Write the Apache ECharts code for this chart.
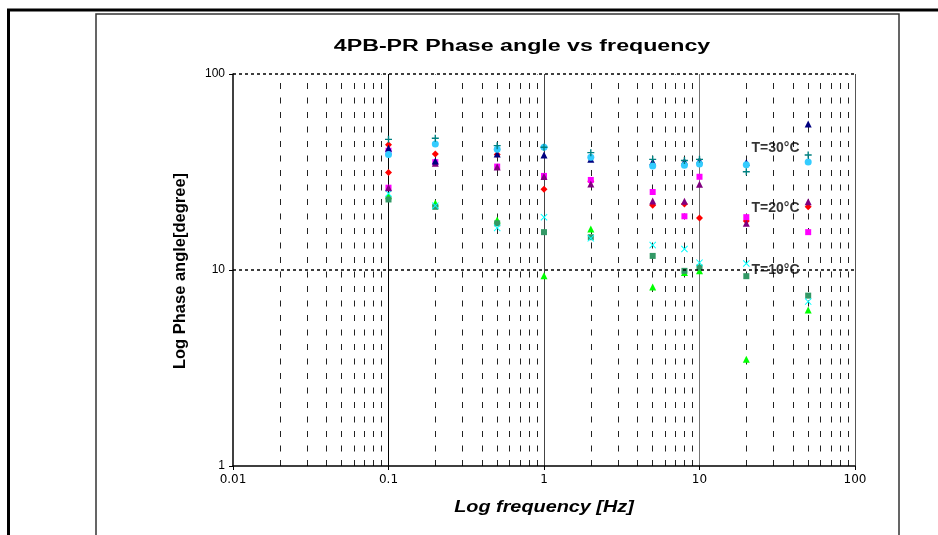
<!DOCTYPE html>
<html><head><meta charset="utf-8">
<script src="https://cdn.jsdelivr.net/npm/echarts@6/dist/echarts.min.js"></script>
<style>html,body{margin:0;padding:0;background:#fff}#c{width:938px;height:535px}</style>
</head><body><div id="c"></div>
<script>
// ---- data ----
const freqs = [0.1, 0.2, 0.5, 1, 2, 5, 8, 10, 20, 50];
const freqsRep = [0.1, 0.1, 0.2, 0.5, 1, 2, 5, 8, 10, 20, 50];
// T=30°C
const navyTriangle = [41.8, 36.0, 39.1, 38.6, 36.7, 35.7, 35.9, 36.3, 35.4, 55.6];
const cyanCircle   = [38.8, 44.0, 41.3, 42.3, 37.6, 33.9, 34.2, 34.7, 34.4, 35.6];
const tealPlus     = [46.4, 47.0, 43.1, 42.3, 39.7, 36.7, 36.2, 36.7, 31.7, 38.6];
// T=20°C
const redDiamond     = [43.6, 31.4, 39.1, 38.8, 25.8, 28.4, 21.4, 21.7, 18.4, 17.8, 21.0];
const magentaSquare  = [40.6, 26.3, 35.5, 33.7, 30.2, 28.8, 25.0, 18.8, 29.9, 18.6, 15.6];
const purpleTriangle = [26.3, 35.0, 33.5, 30.0, 27.5, 22.5, 22.4, 27.4, 17.3, 22.3];
// T=10°C
const cyanCross      = [24.6, 21.3, 16.4, 18.6, 14.5, 13.4, 12.8, 10.9, 10.8, 6.9];
const seaGreenSquare = [22.9, 21.0, 17.3, 15.6, 14.7, 11.8, 9.9, 10.3, 9.3, 7.4];
const greenTriangle  = [23.9, 22.0, 18.0, 9.35, 16.2, 8.2, 9.7, 9.9, 3.5, 6.25];
// annotations [freq, value, text]
const annotations = [[21.6, 41.9, 'T=30°C'], [21.6, 20.7, 'T=20°C'], [21.6, 10.0, 'T=10°C']];
// axes
const xTickLabels = {0.01: '0.01', 0.1: '0.1', 1: '1', 10: '10', 100: '100'};
const yTickLabels = {1: '1', 10: '10', 100: '100'};
const majorX = [0.1, 1, 10, 100];
const minorDigits = [2, 3, 4, 5, 6, 7, 8, 9];
const decades = [0.01, 0.1, 1, 10];

const PLUS = 'path://M4,0L6,0L6,4L10,4L10,6L6,6L6,10L4,10L4,6L0,6L0,4L4,4Z';
const CROSS = 'path://M0,1L1,0L5,4L9,0L10,1L6,5L10,9L9,10L5,6L1,10L0,9L4,5Z';

function pairs(xs, ys) { return ys.map((v, i) => [xs[i], v]); }

const minorLines = [];
decades.forEach(d => minorDigits.forEach(k => minorLines.push({xAxis: +(d * k).toPrecision(3)})));
const majorColors = ['#000', '#444', '#777', '#555'];
const majorLines = majorX.map((x, i) => ({xAxis: x, lineStyle: {type: 'solid', color: majorColors[i], width: 1}}));

function sc(name, xs, ys, symbol, color, size) {
  return {type: 'scatter', name, data: pairs(xs, ys), symbol, symbolSize: size || 6,
    itemStyle: {color, opacity: 1}, z: 3, silent: true, animation: false};
}

const series = [
  {type: 'line', data: [], z: 1, silent: true, animation: false,
   markLine: {silent: true, symbol: ['none', 'none'], label: {show: false}, z: 1, animation: false,
     lineStyle: {type: [6, 8.5], color: '#222', width: 1},
     data: minorLines.concat(majorLines)}},
  sc('green', freqs, greenTriangle, 'triangle', '#00FF00', 7),
  sc('seagreen', freqs, seaGreenSquare, 'rect', '#339966', 6),
  sc('cyanx', freqs, cyanCross, CROSS, '#00FFFF', 7),
  sc('red', freqsRep, redDiamond, 'diamond', '#FF0000', 7),
  sc('magenta', freqsRep, magentaSquare, 'rect', '#FF00FF', 6),
  sc('purple', freqs, purpleTriangle, 'triangle', '#800080', 7),
  sc('navy', freqs, navyTriangle, 'triangle', '#000080', 7),
  sc('cyan', freqs, cyanCircle, 'circle', '#33CCFF', 7),
  sc('teal', freqs, tealPlus, PLUS, '#008080', 7),
  {type: 'scatter', data: annotations.map(a => ({value: [a[0], a[1]], name: a[2]})), symbolSize: 0, z: 4, silent: true,
   label: {show: true, position: 'right', distance: 0, formatter: p => p.name,
     fontFamily: 'Liberation Sans, Arial', fontWeight: 'bold', fontSize: 14, color: '#000'}}
];

const chart = echarts.init(document.getElementById('c'), null, {renderer: 'canvas'});
chart.setOption({
  backgroundColor: '#fff',
  animation: false,
  grid: {left: 233, right: 83, top: 74, bottom: 69, containLabel: false},
  xAxis: {type: 'log', logBase: 10, min: 0.01, max: 100, z: 5,
    axisLine: {lineStyle: {color: '#000', width: 1.5}},
    axisTick: {show: true, length: 4, inside: false, lineStyle: {color: '#000'}},
    splitLine: {show: false},
    axisLabel: {margin: 8, color: '#000', fontSize: 12, fontFamily: 'DejaVu Sans',
      formatter: v => xTickLabels[+v.toPrecision(3)] || ''}},
  yAxis: {type: 'log', logBase: 10, min: 1, max: 100, z: 5,
    axisLine: {lineStyle: {color: '#000', width: 1.5}},
    axisTick: {show: true, length: 4, inside: false, lineStyle: {color: '#000'}},
    splitLine: {show: true, lineStyle: {type: [3, 3], color: ['rgba(0,0,0,0)', '#000', '#000'], width: 1.5}},
    axisLabel: {margin: 8, color: '#000', fontSize: 12, fontFamily: 'Liberation Sans, Arial',
      formatter: v => yTickLabels[+v.toPrecision(3)] || ''}},
  graphic: [
    {type: 'line', shape: {x1: 7, y1: 10, x2: 938, y2: 10}, style: {stroke: '#000', lineWidth: 3}, silent: true},
    {type: 'line', shape: {x1: 8.5, y1: 10, x2: 8.5, y2: 535}, style: {stroke: '#000', lineWidth: 3}, silent: true},
    {type: 'rect', shape: {x: 96, y: 14, width: 803, height: 540}, style: {stroke: '#333', lineWidth: 1.5, fill: null}, silent: true},
    {type: 'text', x: 522, y: 47, scaleX: 1.45,
      style: {text: '4PB-PR Phase angle vs frequency', font: 'bold 16px "Liberation Sans", Arial', fill: '#000',
        align: 'center', verticalAlign: 'middle'}, silent: true},
    {type: 'text', x: 544, y: 508, scaleX: 1.24,
      style: {text: 'Log frequency [Hz]', font: 'italic bold 16px "Liberation Sans", Arial', fill: '#000',
        align: 'center', verticalAlign: 'middle'}, silent: true},
    {type: 'text', x: 180, y: 271, rotation: Math.PI / 2,
      style: {text: 'Log Phase angle[degree]', font: 'bold 16.5px "Liberation Sans", Arial', fill: '#000',
        align: 'center', verticalAlign: 'middle'}, silent: true}
  ],
  series
});
</script></body></html>
